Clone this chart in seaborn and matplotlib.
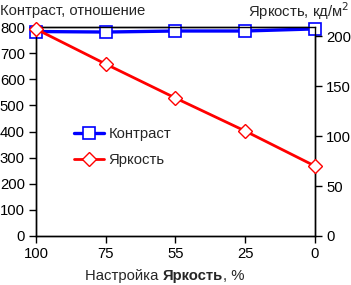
import pandas as pd
import seaborn as sns
import numpy as np
import matplotlib.pyplot as plt

# values
settings = ['100', '75', '55', '25', '0']
contrast = [783, 781, 785, 785, 793]
brightness = [207, 172, 138, 105, 70]

sns.set_style('ticks')
plt.rcParams['font.family'] = ['Liberation Sans', 'DejaVu Sans']
fs = 10.7
plt.rcParams['font.size'] = fs

data = pd.DataFrame({'pos': np.arange(len(settings)),
                     'contrast': contrast,
                     'brightness': brightness})

fig = plt.figure(figsize=(3.51, 2.85), dpi=100)
ax = fig.add_axes([0.1026, 0.172, 0.7945, 0.733])
ax2 = ax.twinx()

sns.lineplot(data=data, x='pos', y='contrast', ax=ax, color='#0000ff', lw=2.4,
             marker='s', markersize=8, markerfacecolor='white',
             markeredgecolor='#0000ff', markeredgewidth=1.2, label='Контраст',
             legend=False, zorder=3, clip_on=False)
sns.lineplot(data=data, x='pos', y='brightness', ax=ax2, color='#ff0000', lw=2.0,
             marker='D', markersize=7, markerfacecolor='white',
             markeredgecolor='#ff0000', markeredgewidth=1.0, label='Яркость',
             legend=False, zorder=3, clip_on=False)

ax.set_xlim(0, len(settings) - 1)
ax.set_ylim(0, 800)
ax2.set_ylim(0, 209)
ax.set_xticks(data['pos'])
ax.set_xticklabels(settings)
ax.set_yticks(range(0, 801, 100))
ax2.set_yticks(range(0, 201, 50))
ax.set_xlabel('')
ax.set_ylabel('')
ax2.set_ylabel('')

for a in (ax, ax2):
    a.tick_params(colors='black', length=5, width=1, labelsize=fs, pad=3)
    for s in a.spines.values():
        s.set_color('black')
        s.set_linewidth(1)
        s.set_visible(True)

h1, l1 = ax.get_legend_handles_labels()
h2, l2 = ax2.get_legend_handles_labels()
ax2.legend(h1 + h2, l1 + l2, loc='center left', bbox_to_anchor=(0.09, 0.425),
           frameon=False, handlelength=2.0, labelspacing=0.8, handletextpad=0.3,
           fontsize=fs)

fig.text(0.0, 0.962, 'Контраст, отношение', ha='left', va='center')
fig.text(0.995, 0.962, 'Яркость, кд/м$^2$', ha='right', va='center')

base = 0.018
t1 = fig.text(0.242, base, 'Настройка ', ha='left', va='baseline')
t2 = fig.text(0, 0, 'Яркость', weight='bold', va='baseline')
t3 = fig.text(0, 0, ', %', va='baseline')
fig.canvas.draw()
r = fig.canvas.get_renderer()
bb = t1.get_window_extent(r)
t2.set_position((bb.x1 / fig.bbox.width, base))
bb = t2.get_window_extent(r)
t3.set_position((bb.x1 / fig.bbox.width, base))

fig.savefig('out.png', dpi=100)
